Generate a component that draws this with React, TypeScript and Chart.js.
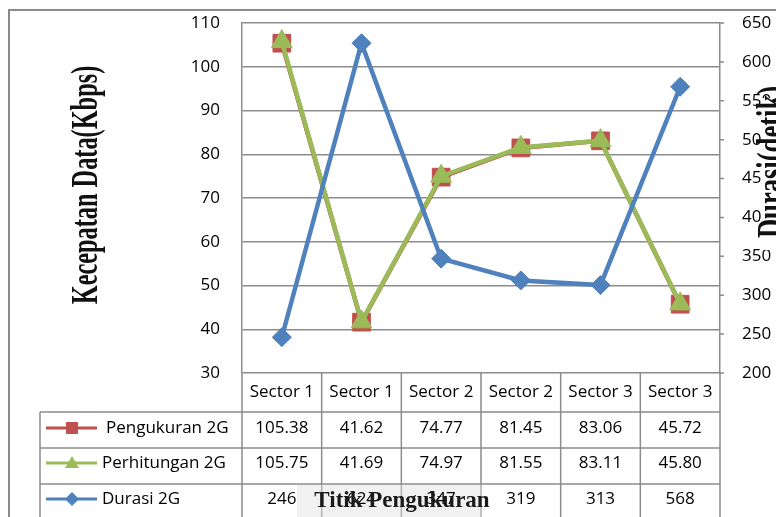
import React, { useEffect, useRef } from 'react';
import { Chart, registerables } from 'chart.js';

Chart.register(...registerables);

const categories = ['Sector 1', 'Sector 1', 'Sector 2', 'Sector 2', 'Sector 3', 'Sector 3'];
const seriesNames = ['Pengukuran 2G', 'Perhitungan 2G', 'Durasi 2G'];
const pengukuran = [105.38, 41.62, 74.77, 81.45, 83.06, 45.72];
const perhitungan = [105.75, 41.69, 74.97, 81.55, 83.11, 45.8];
const durasi = [246, 624, 347, 319, 313, 568];
const leftTicks = [30, 40, 50, 60, 70, 80, 90, 100, 110];
const rightTicks = [200, 250, 300, 350, 400, 450, 500, 550, 600, 650];
const leftTitle = 'Kecepatan Data(Kbps)';
const rightTitle = 'Durasi(detik)';
const xTitle = 'Titik Pengukuran';

const RED = '#C0504D';
const GREEN = '#9BBB59';
const BLUE = '#4F81BD';
const GRID = '#8c8c8c';
const SANS = "'Open Sans', 'Noto Sans', sans-serif";
const SERIF = "'Liberation Serif', 'DejaVu Serif', serif";

const tableValues = [
  pengukuran.map((v) => v.toFixed(2)),
  perhitungan.map((v) => v.toFixed(2)),
  durasi.map((v) => String(v)),
];
const seriesColors = [RED, GREEN, BLUE];
const seriesMarkers = ['rect', 'triangle', 'rectRot'];

function drawMarker(ctx: CanvasRenderingContext2D, kind: string, x: number, y: number) {
  ctx.beginPath();
  if (kind === 'rect') {
    ctx.rect(x - 6, y - 6, 12, 12);
  } else if (kind === 'triangle') {
    ctx.moveTo(x, y - 7);
    ctx.lineTo(x + 7, y + 5);
    ctx.lineTo(x - 7, y + 5);
    ctx.closePath();
  } else {
    ctx.moveTo(x, y - 7);
    ctx.lineTo(x + 7, y);
    ctx.lineTo(x, y + 7);
    ctx.lineTo(x - 7, y);
    ctx.closePath();
  }
  ctx.fill();
}

const tablePlugin = {
  id: 'dataTable',
  afterDraw(chart: any) {
    const ctx: CanvasRenderingContext2D = chart.ctx;
    const { left, right, bottom } = chart.chartArea;
    const H = chart.height;
    const xs = chart.scales.x;
    const y1 = chart.scales.y1;
    const n = categories.length;
    const colW = (right - left) / n;
    const legendLeft = 40;
    const rowLines = [bottom + 39, bottom + 75, bottom + 111];
    const rowCenters = [bottom + 19, bottom + 55, bottom + 90, bottom + 126];

    ctx.save();
    // outer frame
    ctx.strokeStyle = '#8a8a8a';
    ctx.lineWidth = 2;
    ctx.strokeRect(9, 10, 900, 700);

    // right axis small tick marks
    ctx.strokeStyle = GRID;
    ctx.lineWidth = 1.5;
    ctx.beginPath();
    rightTicks.forEach((v) => {
      const y = y1.getPixelForValue(v);
      ctx.moveTo(right, y);
      ctx.lineTo(right + 4, y);
    });
    ctx.stroke();

    // table lines
    ctx.beginPath();
    for (let i = 0; i <= n; i++) {
      const x = left + i * colW;
      ctx.moveTo(x, bottom);
      ctx.lineTo(x, H);
    }
    ctx.moveTo(legendLeft, rowLines[0]);
    ctx.lineTo(legendLeft, H);
    for (const y of rowLines) {
      ctx.moveTo(legendLeft, y);
      ctx.lineTo(right, y);
    }
    ctx.stroke();

    // title box behind x title
    ctx.fillStyle = 'rgba(225,225,225,0.45)';
    ctx.fillRect(297, rowLines[2] + 1, 185, H - rowLines[2]);

    // header categories
    ctx.fillStyle = '#000';
    ctx.font = `17px ${SANS}`;
    ctx.textAlign = 'center';
    ctx.textBaseline = 'middle';
    categories.forEach((c, i) => {
      ctx.fillText(c, xs.getPixelForValue(i), rowCenters[0]);
    });

    // rows
    seriesNames.forEach((name, r) => {
      const y = rowCenters[r + 1];
      ctx.strokeStyle = seriesColors[r];
      ctx.fillStyle = seriesColors[r];
      ctx.lineWidth = 3;
      ctx.beginPath();
      ctx.moveTo(46, y);
      ctx.lineTo(97, y);
      ctx.stroke();
      drawMarker(ctx, seriesMarkers[r], 72, y);
      ctx.fillStyle = '#000';
      ctx.textAlign = 'left';
      ctx.fillText(name, r === 0 ? 106 : 102, y);
      ctx.textAlign = 'center';
      tableValues[r].forEach((v, i) => {
        ctx.fillText(v, xs.getPixelForValue(i), y);
      });
    });

    // x title
    ctx.fillStyle = '#1a1a1a';
    ctx.font = `bold 23px ${SERIF}`;
    ctx.textAlign = 'center';
    ctx.textBaseline = 'middle';
    ctx.fillText(xTitle, 402, rowCenters[3] + 2);

    // left title (rotated, condensed)
    ctx.save();
    ctx.translate(97, 185);
    ctx.rotate(-Math.PI / 2);
    ctx.scale(0.64, 1);
    ctx.fillStyle = '#111';
    ctx.font = `bold 38px ${SERIF}`;
    ctx.textAlign = 'center';
    ctx.textBaseline = 'alphabetic';
    ctx.fillText(leftTitle, 0, 0);
    ctx.restore();

    // right title (rotated, partly cut)
    ctx.fillStyle = '#fff';
    ctx.fillRect(761, 98, 20, 152);
    ctx.save();
    ctx.translate(783, 162);
    ctx.rotate(-Math.PI / 2);
    ctx.scale(0.7, 1);
    ctx.fillStyle = '#111';
    ctx.font = `bold 38px ${SERIF}`;
    ctx.textAlign = 'center';
    ctx.textBaseline = 'alphabetic';
    ctx.fillText(rightTitle, 0, 0);
    ctx.restore();

    ctx.restore();
  },
};

export default function App() {
  const ref = useRef<HTMLCanvasElement | null>(null);

  useEffect(() => {
    if (!ref.current) return;
    const chart = new Chart(ref.current, {
      type: 'line',
      data: {
        labels: categories,
        datasets: [
          {
            label: seriesNames[0],
            data: pengukuran,
            yAxisID: 'y',
            borderColor: RED,
            backgroundColor: RED,
            borderWidth: 4.5,
            pointStyle: 'rect',
            pointRadius: 12.5,
            pointBorderWidth: 1,
            order: 3,
          },
          {
            label: seriesNames[1],
            data: perhitungan,
            yAxisID: 'y',
            borderColor: GREEN,
            backgroundColor: GREEN,
            borderWidth: 4.5,
            pointStyle: 'triangle',
            pointRadius: 12,
            pointBorderWidth: 1,
            order: 2,
          },
          {
            label: seriesNames[2],
            data: durasi,
            yAxisID: 'y1',
            borderColor: BLUE,
            backgroundColor: BLUE,
            borderWidth: 4.5,
            pointStyle: 'rectRot',
            pointRadius: 9.5,
            pointBorderWidth: 1,
            order: 1,
          },
        ],
      },
      options: {
        responsive: false,
        animation: false,
        devicePixelRatio: 1,
        layout: { padding: { top: 23, bottom: 144, left: 0, right: 0 } },
        plugins: {
          legend: { display: false },
          tooltip: { enabled: false },
          title: { display: false },
        },
        scales: {
          x: {
            type: 'category',
            display: false,
            offset: true,
          },
          y: {
            position: 'left',
            min: 30,
            max: 110,
            afterBuildTicks: (s: any) => {
              s.ticks = leftTicks.map((v) => ({ value: v }));
            },
            afterFit: (s: any) => {
              s.width = 242;
            },
            ticks: {
              color: '#000',
              font: { family: SANS, size: 17 },
              padding: 0,
            },
            grid: { color: GRID, lineWidth: 1.5, drawTicks: true, tickLength: 22, tickColor: 'rgba(0,0,0,0)' },
            border: { display: true, color: GRID, width: 1.5 },
          },
          y1: {
            position: 'right',
            min: 200,
            max: 650,
            afterBuildTicks: (s: any) => {
              s.ticks = rightTicks.map((v) => ({ value: v }));
            },
            afterFit: (s: any) => {
              s.width = 56;
            },
            ticks: {
              color: '#000',
              font: { family: SANS, size: 17 },
              padding: 0,
            },
            grid: { drawOnChartArea: false, drawTicks: true, tickLength: 22, tickColor: 'rgba(0,0,0,0)' },
            border: { display: true, color: GRID, width: 1.5 },
          },
        },
      },
      plugins: [tablePlugin],
    } as any);
    return () => chart.destroy();
  }, []);

  return (
    <div style={{ position: 'absolute', left: 0, top: 0, width: 776, height: 517, background: '#fff' }}>
      <canvas ref={ref} width={776} height={517} style={{ display: 'block' }} />
    </div>
  );
}
